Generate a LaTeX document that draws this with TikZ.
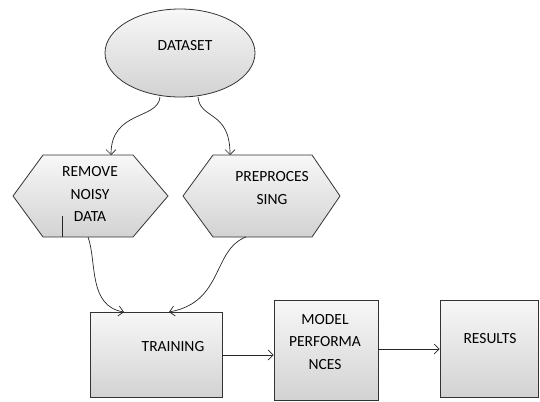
\documentclass[tikz,border=0pt]{standalone}
\usepackage{fontspec}
\setmainfont{Carlito}
\usetikzlibrary{arrows.meta,shadows,shapes.geometric}
\begin{document}
\begin{tikzpicture}[x=1pt,y=-1pt,
  fillshade/.style={top color=gray!6,bottom color=gray!35,draw=black!80,line width=0.8pt},
  lbl/.style={font=\fontsize{15.5}{22.5}\selectfont,align=center,inner sep=0pt,text=black},
  conn/.style={draw=black!85,line width=0.7pt,-{Straight Barb[length=5pt,width=10pt]}},
  boxr/.style={fillshade,rectangle,inner sep=0pt,drop shadow={shadow xshift=1pt,shadow yshift=-1.2pt,opacity=0.35}}]
\useasboundingbox (0,0) rectangle (540,401);
% dataset ellipse
\node[fillshade,ellipse,minimum width=150pt,minimum height=88pt,inner sep=0pt] (ds) at (180,53) {};
\node[lbl] (dst) at (185,46) {DATASET};
% hexagon 1
\coordinate (r1) at (13,196);
\coordinate (r2) at (43,155);
\coordinate (r3) at (133,155);
\coordinate (r4) at (168,196);
\coordinate (r5) at (133,237);
\coordinate (r6) at (43,237);
\shade[fillshade] (r1) -- (r2) -- (r3) -- (r4) -- (r5) -- (r6) -- cycle;
\node[lbl] (remt) at (90,194) {REMOVE\\NOISY\\DATA};
\coordinate (tk1) at (62,216);
\coordinate (tk2) at (62,237);
\draw[black!85,line width=0.8pt] (tk1) -- (tk2);
% hexagon 2
\coordinate (p1) at (183,196);
\coordinate (p2) at (213,155);
\coordinate (p3) at (312,155);
\coordinate (p4) at (340,196);
\coordinate (p5) at (312,237);
\coordinate (p6) at (213,237);
\shade[fillshade] (p1) -- (p2) -- (p3) -- (p4) -- (p5) -- (p6) -- cycle;
\node[lbl] (pret) at (272,188) {PREPROCES\\SING};
% boxes
\node[boxr,minimum width=132pt,minimum height=85pt] (tr) at (156,354.5) {};
\node[lbl] (trt) at (173,347) {TRAINING};
\node[boxr,minimum width=104pt,minimum height=100pt] (mp) at (326,350) {};
\node[lbl] (mpt) at (325,342) {MODEL\\PERFORMA\\NCES};
\node[boxr,minimum width=98pt,minimum height=97pt] (rs) at (489,348.5) {};
\node[lbl] (rst) at (490,339) {RESULTS};
% connector endpoints
\coordinate (a1) at (160,97);
\coordinate (a2) at (111,155);
\coordinate (b1) at (198,97);
\coordinate (b2) at (230,155);
\coordinate (c1) at (88,237);
\coordinate (c2) at (124,312);
\coordinate (d1) at (246,237);
\coordinate (d2) at (169,312);
\draw[conn] (a1) .. controls (158,120) and (111,110) .. (a2);
\draw[conn] (b1) .. controls (200,120) and (230,110) .. (b2);
\draw[conn] (c1) .. controls (97,262) and (88,306) .. (c2);
\draw[conn] (d1) .. controls (212,250) and (224,302) .. (d2);
\draw[conn] (tr.east |- 0,355) -- (mp.west |- 0,355);
\draw[conn] (mp.east |- 0,349) -- (rs.west |- 0,349);
\end{tikzpicture}
\end{document}
